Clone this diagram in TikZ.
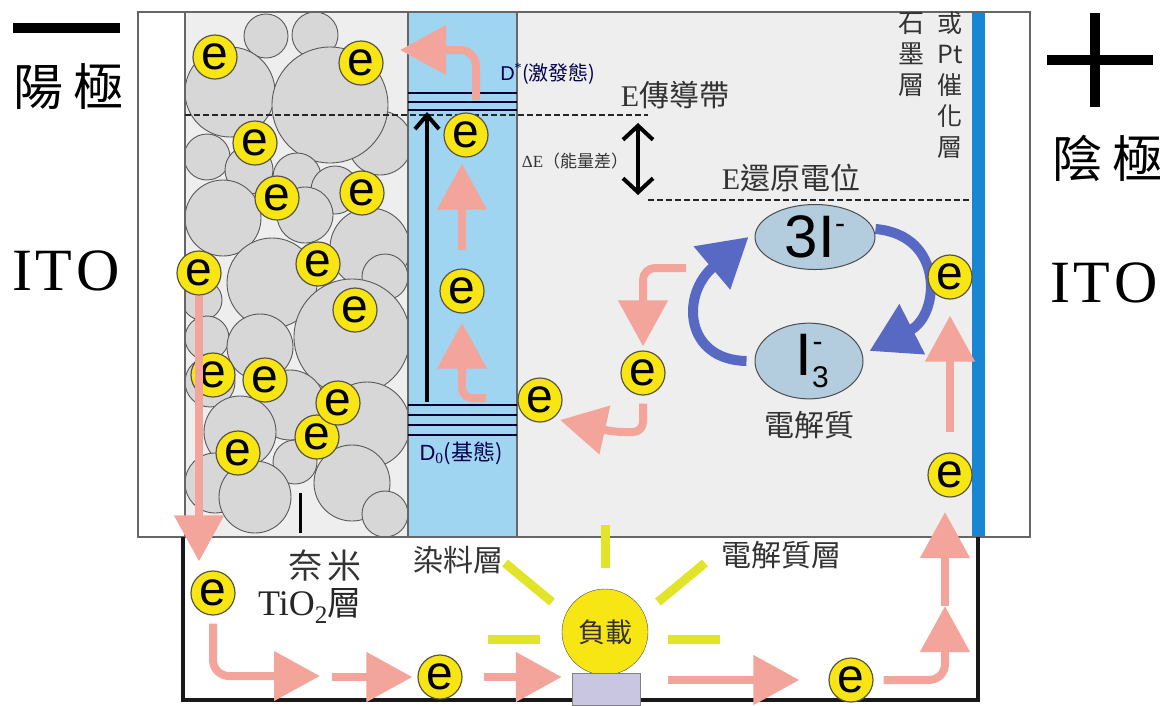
\documentclass[tikz,border=0pt]{standalone}
\usepackage{fontspec}
\setmainfont{Liberation Serif}
\newfontfamily\cjk{Noto Sans CJK TC}
\newfontfamily\arial{Liberation Sans}
\usetikzlibrary{arrows.meta,shapes.geometric,positioning}

\definecolor{salmon}{RGB}{244,165,155}
\definecolor{eyellow}{RGB}{248,230,20}
\definecolor{dyeblue}{RGB}{160,213,242}
\definecolor{ptblue}{RGB}{24,134,210}
\definecolor{iodblue}{RGB}{88,105,195}
\definecolor{ionfill}{RGB}{180,205,222}
\definecolor{grainfill}{RGB}{215,215,215}
\definecolor{raycol}{RGB}{225,228,40}
\definecolor{cellbg}{RGB}{238,238,238}
\definecolor{basecol}{RGB}{200,198,225}

\tikzset{
  elec/.style={circle,draw=black!75!yellow,fill=eyellow,line width=1.2pt,
    minimum size=44pt,inner sep=0pt,font=\arial\fontsize{48}{48}\selectfont},
  flow/.style={salmon,line width=8pt,-{Triangle[length=46pt,width=48pt]}},
  redox/.style={iodblue,line width=10pt,-{Triangle[length=48pt,width=54pt]}},
  grain/.style={draw=black!65,fill=grainfill,line width=0.9pt},
  ion/.style={ellipse,draw=black!70,fill=ionfill,line width=1pt,inner sep=0pt,
    font=\arial\fontsize{60}{60}\selectfont},
  band/.style={draw=black!80!blue,line width=1.6pt},
  fermi/.style={black!85,line width=2.2pt,dash pattern=on 6pt off 3pt},
  wall/.style={draw=black!60,line width=1.5pt},
  wire/.style={black!90,line width=4pt},
  lightray/.style={raycol,line width=9pt},
  zh/.style={font=\cjk\fontsize{#1}{#1}\selectfont,text=black!80},
}
\newcommand\ionsup[2]{\raisebox{#1}{\fontsize{30}{30}\selectfont #2}}

\begin{document}
\begin{tikzpicture}[x=1pt,y=-1pt]
  \useasboundingbox (0,0) rectangle (1172,705);

  % cell layers
  \fill[cellbg] (185,12) rectangle (972,537);
  \fill[dyeblue] (408,12) rectangle (517,537);
  \fill[white] (138,12) rectangle (185,537);
  \fill[ptblue] (972,12) rectangle (985,537);
  \fill[white] (985,12) rectangle (1030,537);

  % TiO2 grains
  \begin{scope}
    \clip (185,12) rectangle (408,537);
    \foreach \cx/\cy/\r in {380/143/32, 266/36/22, 315/35/23, 230/92/45,
        330/105/58, 207/157/23, 249/170/24, 297/177/24, 335/190/24,
        223/218/38, 305/215/28, 370/248/40, 385/277/23, 202/300/20,
        272/283/45, 207/338/22, 260/347/33, 352/337/58, 210/382/25,
        290/405/35, 367/425/43, 240/432/36, 215/483/30, 295/462/22,
        352/483/38, 255/497/36, 385/514/23}
      \draw[grain] (\cx,\cy) circle[radius=\r pt];
  \end{scope}

  \draw[wall] (138,12) rectangle (1030,537);
  \draw[wall] (185,12) -- (185,537);
  \draw[wall] (408,12) -- (408,537);
  \draw[wall] (517,12) -- (517,537);
  \draw[black,line width=3pt] (300,493) -- (300,533);

  % dye levels
  \foreach \y in {93,102,110}
    \draw[band] (408,\y) -- (517,\y);
  \foreach \y in {405,415,425,435}
    \draw[band] (408,\y) -- (517,\y);

  \draw[fermi] (185,115) -- (648,115);
  \draw[fermi] (648,200) -- (972,200);
  \draw[black,line width=4pt,-{Straight Barb[length=14pt,width=24pt]}] (427,402) -- (427,112);
  \draw[black,line width=4pt,{Straight Barb[length=14pt,width=30pt]}-{Straight Barb[length=14pt,width=30pt]}] (638,123) -- (638,195);

  \node[font=\fontsize{20}{20}\selectfont,text=black!70!blue] (dstar) at (548,74)
    {{\arial D}\textsuperscript{*}{\cjk (激發態)}};
  \node[font=\fontsize{30}{30}\selectfont,text=black!80] (cband) at (675,95) {E{\cjk 傳導帶}};
  \node[font=\fontsize{17}{17}\selectfont,text=black!80] (deltaE) at (575,161) {ΔE{\cjk （能量差）}};
  \node[font=\fontsize{30}{30}\selectfont,text=black!80] (redpot) at (791,178) {E{\cjk 還原電位}};
  \node[font=\fontsize{22}{22}\selectfont,text=black!70!blue] (dzero) at (461,453)
    {{\arial D}\textsubscript{0}{\cjk (基態)}};
  \node[zh=25,align=center,font=\cjk\fontsize{26}{31}\selectfont] (graph) at (911,55) {石\\墨\\層};
  \node[zh=25,align=center,font=\cjk\fontsize{25}{31}\selectfont] (ptcat) at (950,85) {或\\Pt\\催\\化\\層};

  % iodide / triiodide
  \node[ion,minimum width=120pt,minimum height=65pt] (iod) at (815,237) {3I\ionsup{24pt}{-}};
  \node[ion,minimum width=108pt,minimum height=72pt] (triiod) at (809,361)
    {I\ionsup{-12pt}{3}\hspace{-16pt}\ionsup{24pt}{-}};
  \node[zh=30] (electxt) [below=8pt of triiod] {電解質};
  \draw[redox] ([xshift=-8pt]triiod.west) .. controls (685,360) and (680,295) .. ([xshift=-6pt]iod.west);
  \draw[redox] ([yshift=8pt]iod.east) .. controls (945,235) and (940,315) .. ([xshift=6pt,yshift=10pt]triiod.east);

  % external circuit
  \draw[wire] (183,537) -- (183,700) -- (978,700) -- (978,537);
  \draw[lightray] (605,525) -- (605,568);
  \draw[lightray] (505,563) -- (552,602);
  \draw[lightray] (705,563) -- (658,602);
  \draw[lightray] (488,639) -- (540,639);
  \draw[lightray] (668,639) -- (720,639);
  \node[circle,draw=black!70,fill=eyellow,minimum size=86pt,inner sep=0pt,zh=27] (lamp) at (605,632) {負載};
  \fill[basecol,draw=black!50] (572,673) rectangle (640,705);

  \node[zh=30] (dyelayer) at (458,560) {染料層};
  \node[zh=30] (ellayer) at (781,555) {電解質層};
  \node[zh=34] (nami) at (325,566) {奈\hspace{6pt}米};
  \node[font=\fontsize{36}{36}\selectfont,text=black!85] (tiolayer) at (310,606)
    {TiO\textsubscript{2}{\cjk\fontsize{34}{34}\selectfont 層}};

  % electrons
  \foreach \n/\x/\y in {1/215/57, 2/361/63, 3/255/143, 4/277/198, 5/362/193,
      6/199/273, 7/318/264, 8/355/310, 9/213/375, 10/265/380, 12/317/437,
      11/338/403, 13/238/453, 14/466/135, 15/462/291, 16/540/400, 17/643/373,
      18/950/277, 19/950/475, 20/213/593, 21/440/677, 22/851/680}
    \node[elec] (e\n) at (\x,\y) {e};

  % electron flow
  \coordinate (exc) at (476,100);
  \coordinate (inj) at (400,50);
  \draw[flow,rounded corners=16pt] (exc) |- (inj);
  \draw[flow,shorten <=18pt,shorten >=6pt] (e15.north) -- (e15.north |- e14.south);
  \coordinate (gnd) at (486,398);
  \draw[flow,rounded corners=10pt] (gnd) -| ([yshift=-9pt]e15.south);
  \draw[flow,shorten >=9pt] (e6.south) -- (e6.south |- e20.north);
  \coordinate (b1) at (320,676);
  \draw[flow,rounded corners=16pt,shorten <=8pt] (e20.south) |- (b1);
  \coordinate (b2) at (332,677);
  \draw[flow] (b2) -- ([xshift=-5pt]e21.west);
  \draw[flow] ([xshift=21pt]e21.east) -- (e21 -| lamp.west);
  \coordinate (b4) at (668,680);
  \draw[flow] (b4) -- ([xshift=-29pt]e22.west);
  \coordinate (up1) at (945,606);
  \draw[flow,rounded corners=16pt] ([xshift=10pt]e22.east) -| (up1);
  \coordinate (up2) at (945,606);
  \draw[flow] (up2) -- ++(0,-94);
  \draw[flow,shorten <=20pt,shorten >=16pt] (e19.north) -- (e18.south);
  \coordinate (red) at (686,268);
  \draw[flow,rounded corners=12pt] (red) -| ([yshift=4pt]e17.north);
  \draw[flow,rounded corners=10pt] ([yshift=-8pt]e17.south) |- (614,432) -- (560,420);

  % electrodes
  \fill (13,23) rectangle (120,33);
  \fill (1047,55) rectangle (1153,65);
  \fill (1090,13) rectangle (1100,107);
  \node[zh=50,text=black] (anode) at (68,87) {陽\hspace{10pt}極};
  \node[zh=50,text=black] (cathode) at (1107,158) {陰\hspace{10pt}極};
  \node[font=\fontsize{60}{60}\selectfont] (itoL) at (66,271) {I\kern4pt T\kern4pt O};
  \node[font=\fontsize{60}{60}\selectfont] (itoR) at (1104,283) {I\kern4pt T\kern4pt O};
\end{tikzpicture}
\end{document}
